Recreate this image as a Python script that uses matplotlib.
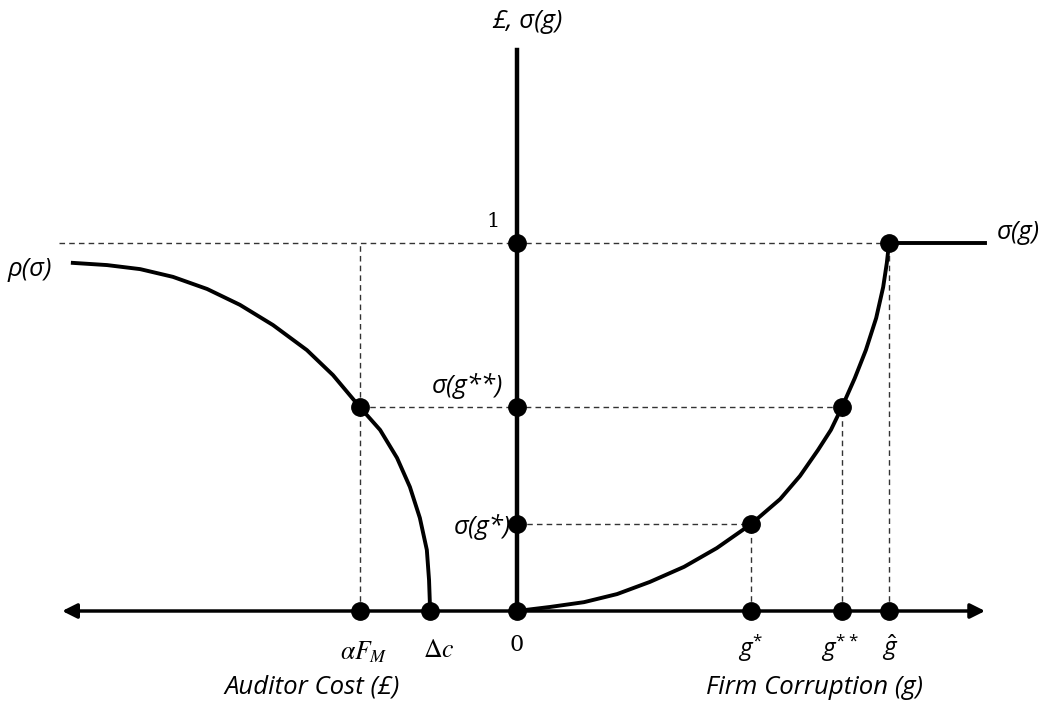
import numpy as np
import matplotlib.pyplot as plt

# 横轴位置 (σ = 1 为纵轴单位)
g_star = 0.636
g_2star = 0.883
g_hat = 1.011
alpha_FM = -0.427
delta_c = -0.236

# 纵轴取值
sig_gstar = 0.236
sig_g2star = 0.554
sig_max = 1.0

# 轴端点
x_left, x_right = -1.236, 1.272
y_top = 1.524

# σ(g) 曲线
sigma_g_x = [0, 0.090, 0.182, 0.272, 0.361, 0.454, 0.543, 0.636, 0.715, 0.769,
             0.818, 0.853, 0.883, 0.918, 0.948, 0.976, 0.995, 1.005, 1.011]
sigma_g_y = [0, 0.011, 0.024, 0.046, 0.079, 0.120, 0.171, 0.236, 0.304, 0.367,
             0.4375, 0.492, 0.554, 0.633, 0.709, 0.796, 0.880, 0.946, 1.0]

# ρ(σ) 曲线
rho_x = [-1.207, -1.114, -1.024, -0.935, -0.842, -0.753, -0.663, -0.571, -0.500, -0.427,
         -0.372, -0.326, -0.291, -0.264, -0.245, -0.239, -0.236]
rho_y = [0.946, 0.940, 0.929, 0.908, 0.875, 0.832, 0.777, 0.709, 0.641, 0.554,
         0.492, 0.416, 0.337, 0.253, 0.166, 0.084, 0.0]

plt.rcParams['mathtext.fontset'] = 'custom'
plt.rcParams['mathtext.it'] = 'Open Sans:italic'
plt.rcParams['mathtext.rm'] = 'Open Sans'

fig = plt.figure(figsize=(10.49, 7.11), dpi=100)
ax = fig.add_axes([0, 0, 1, 1])
ax.set_xlim(-517 / 368, 532 / 368)
ax.set_ylim(-100 / 368, 611 / 368)
ax.axis('off')

dash = dict(color='#333333', lw=1.0, ls=(0, (4, 3)), zorder=1)

# 虚线
ax.plot([-1.245, g_hat], [sig_max, sig_max], **dash)
ax.plot([alpha_FM, alpha_FM], [0, sig_max], **dash)
ax.plot([alpha_FM, g_2star], [sig_g2star, sig_g2star], **dash)
ax.plot([0, g_star], [sig_gstar, sig_gstar], **dash)
ax.plot([g_star, g_star], [0, sig_gstar], **dash)
ax.plot([g_2star, g_2star], [0, sig_g2star], **dash)
ax.plot([g_hat, g_hat], [0, sig_max], **dash)

# 坐标轴
ax.annotate('', xy=(x_left, 0), xytext=(x_right, 0),
            arrowprops=dict(arrowstyle='<|-|>', lw=2.5, color='black',
                            mutation_scale=22, shrinkA=0, shrinkB=0), zorder=3)
ax.plot([0, 0], [0, y_top], color='black', lw=3.2, zorder=3)

# 曲线
ax.plot(sigma_g_x, sigma_g_y, color='black', lw=2.8, zorder=3, solid_joinstyle='round')
ax.plot([g_hat, x_right], [sig_max, sig_max], color='black', lw=2.8, zorder=3)
ax.plot(rho_x, rho_y, color='black', lw=2.8, zorder=3, solid_joinstyle='round')

# 点
dots_x = [0, 0, 0, 0, alpha_FM, delta_c, g_star, g_2star, g_hat, g_star, g_2star, g_hat, alpha_FM]
dots_y = [0, sig_gstar, sig_g2star, sig_max, 0, 0, 0, 0, 0, sig_gstar, sig_g2star, sig_max, sig_g2star]
ax.plot(dots_x, dots_y, 'o', color='black', markersize=12.5, zorder=4)

sans = dict(family=['Open Sans', 'DejaVu Sans'], style='italic', fontsize=18.5)

def px(xp):
    return (xp - 517) / 368

def py(yp):
    return (611 - yp) / 368

ax.text(px(527), py(21), '£, σ(g)', ha='center', va='center', **sans)
ax.text(px(493), py(222), '1', ha='center', va='center', family='DejaVu Serif', fontsize=15)
ax.text(px(503), py(386), 'σ(g**)', ha='right', va='center', **sans)
ax.text(px(511), py(527), 'σ(g*)', ha='right', va='center', **sans)
ax.text(px(997), py(233), 'σ(g)', ha='left', va='center', **sans)
ax.text(px(8), py(270), 'ρ(σ)', ha='left', va='center', **sans)

ax.text(alpha_FM + 0.01, py(652), r'$\alpha F_M$', ha='center', va='center', fontsize=18.5, math_fontfamily='stix')
ax.text(px(439), py(650), r'$\Delta c$', ha='center', va='center', fontsize=18.5, math_fontfamily='stix')
ax.text(0, py(645), '0', ha='center', va='center', family='DejaVu Serif', fontsize=16)
ax.text(px(751), py(648), r'$g^{*}$', ha='center', va='center', fontsize=17.5)
ax.text(px(840), py(648), r'$g^{**}$', ha='center', va='center', fontsize=17.5)
ax.text(px(890), py(648), r'$\hat{g}$', ha='center', va='center', fontsize=17.5)

ax.text(px(312), py(687), 'Auditor Cost (£)', ha='center', va='center', **sans)
ax.text(px(814), py(687), 'Firm Corruption (g)', ha='center', va='center', **sans)

fig.savefig('out.png', dpi=100)
